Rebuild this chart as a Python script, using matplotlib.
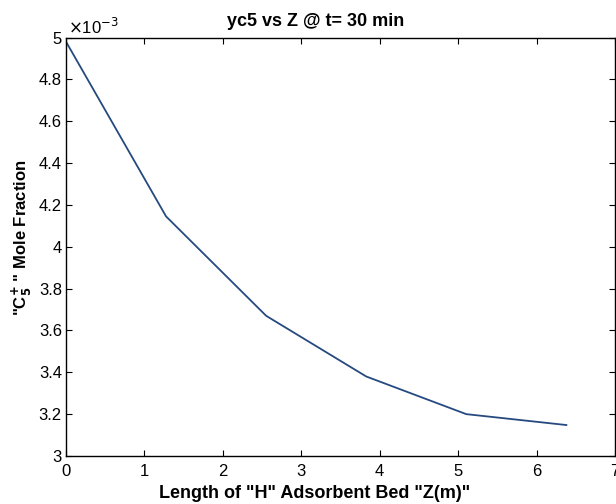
import matplotlib
matplotlib.use("Agg")
import matplotlib.pyplot as plt

plt.rcParams["font.family"] = ["Liberation Sans", "DejaVu Sans"]

# bed length (m) and C5+ mole fraction at t = 30 min
z = [0.0, 1.276, 2.552, 3.828, 5.104, 6.38]
yc5 = [4.98e-3, 4.145e-3, 3.67e-3, 3.38e-3, 3.20e-3, 3.148e-3]

xticks = [0, 1, 2, 3, 4, 5, 6, 7]
yticks = [3.0, 3.2, 3.4, 3.6, 3.8, 4.0, 4.2, 4.4, 4.6, 4.8, 5.0]
ytick_labels = ["3", "3.2", "3.4", "3.6", "3.8", "4", "4.2", "4.4", "4.6", "4.8", "5"]

fig = plt.figure(figsize=(6.16, 5.04), dpi=100)
ax = fig.add_axes([66 / 616, 1 - 456 / 504, (615 - 66) / 616, (456 - 37.5) / 504])

ax.plot(z, [v * 1e3 for v in yc5], color="#26497f", linewidth=1.3)

ax.set_xlim(0, 7)
ax.set_ylim(3, 5)
ax.set_xticks(xticks)
ax.set_yticks(yticks)
ax.set_yticklabels(ytick_labels)
ax.tick_params(direction="in", top=True, right=True, labelsize=12, length=4, width=0.8, pad=3)
ax.tick_params(axis="x", pad=6)
for s in ax.spines.values():
    s.set_linewidth(1.0)

ax.text(0.003, 1.0, r"$\times$10$^{-3}$", transform=ax.transAxes, fontsize=12,
        ha="left", va="bottom")

fig.text(316 / 616, 1 - 22 / 504, "yc5 vs Z @ t= 30 min", ha="center", va="center",
         fontsize=13, fontweight="bold")
fig.text(315 / 616, 1 - 493 / 504, 'Length of "H" Adsorbent Bed "Z(m)"', ha="center",
         va="center", fontsize=13, fontweight="bold")
fig.text(22 / 616, 1 - 238 / 504, r'"C$_\mathbf{5}^\mathbf{+}$ " Mole Fraction', ha="center",
         va="center", rotation=90, fontsize=12, fontweight="bold")

fig.savefig("out.png", dpi=100)
